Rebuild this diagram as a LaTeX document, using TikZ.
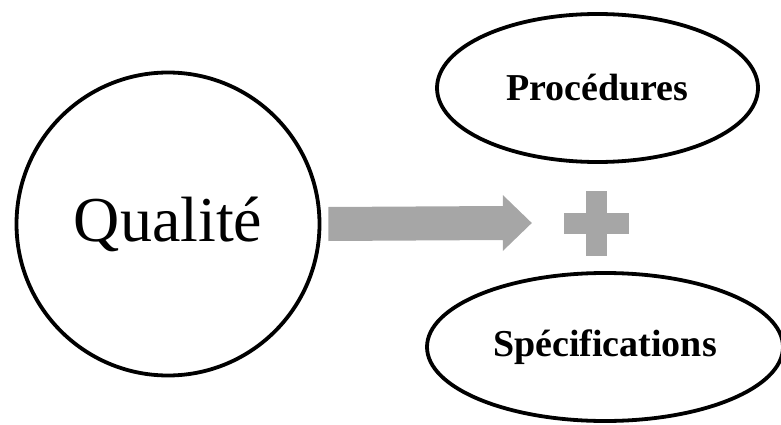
\documentclass[tikz,border=0pt]{standalone}
\usepackage{fontspec}
\setmainfont{Liberation Serif}
\usepackage{tikz}
\usetikzlibrary{shapes.geometric, arrows.meta, positioning, calc}
\definecolor{mydark}{RGB}{0,0,0}
\definecolor{mygray}{RGB}{166,166,166}
\tikzset{
  bigcircle/.style={circle, draw=mydark, line width=3.8pt,
    minimum size=303pt, inner sep=0pt, font=\fontsize{64}{70}\selectfont},
  oval/.style={ellipse, draw=mydark, line width=3.8pt,
    minimum height=148pt, inner sep=0pt, font=\fontsize{38}{44}\selectfont\bfseries},
  plusbar/.style={rectangle, fill=mygray, inner sep=0pt},
  blockarrow/.style={fill=mygray}
}

\begin{document}
\begin{tikzpicture}[x=1pt, y=-1pt]
  \useasboundingbox (0,0) rectangle (781,425);

  % Main circle
  \node[bigcircle] (qual) at (168,224) {Qualité};

  % Two ovals on the right
  \node[oval, minimum width=321pt] (proc) at (597.5,88) {Procédures};
  \node[oval, minimum width=356pt] (spec) at (605,347) {Spécifications};

  % Plus sign
  \node[plusbar, minimum width=65pt, minimum height=21pt] (plush) at (596,223) {};
  \node[plusbar, minimum width=21pt, minimum height=65pt] (plusv) at (596,223) {};

  % Block arrow
  \coordinate (atail) at ([xshift=7pt]qual.east);
  \coordinate (atip) at ([xshift=-31.5pt]plush.west);
  \fill[blockarrow] ($(atail)+(0,-17)$) -- ($(atip)+(-29,-17)$) -- ($(atip)+(-29,-28)$)
    -- (atip) -- ($(atip)+(-29,28)$) -- ($(atip)+(-29,17)$) -- ($(atail)+(0,17)$) -- cycle;
\end{tikzpicture}
\end{document}
